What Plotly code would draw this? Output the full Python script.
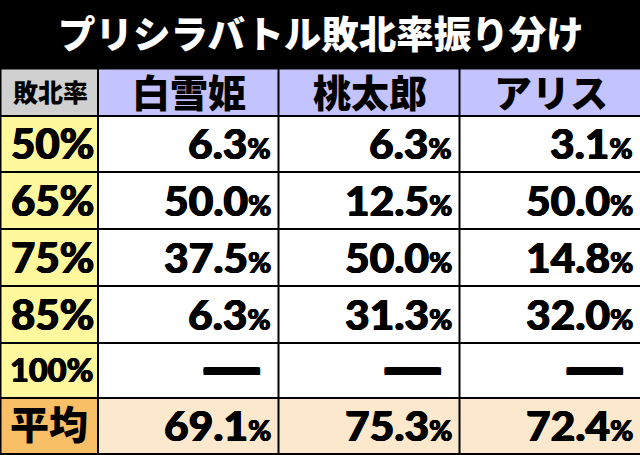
import plotly.graph_objects as go

title = "プリシラバトル敗北率振り分け"
corner = "敗北率"
characters = ["白雪姫", "桃太郎", "アリス"]
row_labels = ["50%", "65%", "75%", "85%", "100%", "平均"]
shirayuki = ["6.3", "50.0", "37.5", "6.3", None, "69.1"]
momotaro = ["6.3", "12.5", "50.0", "31.3", None, "75.3"]
alice = ["3.1", "50.0", "14.8", "32.0", None, "72.4"]
series = [shirayuki, momotaro, alice]

col_edges = [1.5, 98, 278.5, 459.5, 641]
row_edges = [68.5, 116, 172, 229, 286, 343, 398, 454]

CJK = "Noto Sans CJK JP"
NUM = "Lato"
HEAVY = "0.6px 0 0 #000, -0.6px 0 0 #000, 0 0.4px 0 #000"
DASH = ", ".join(f"{dx}px {dy}px 0 #000" for dx in range(-14, 15, 2) for dy in (-2, 0, 2))

shapes = []
ann = []

def rect(x0, x1, y0, y1, fill):
    shapes.append(dict(type="rect", xref="x", yref="y", x0=x0, x1=x1, y0=y0, y1=y1,
                       fillcolor=fill, line=dict(width=0), layer="below"))

def label(x, y, text, size, color="#000", font=CJK, anchor="center", weight=700, shadow="none"):
    ann.append(dict(x=x, y=y, xref="x", yref="y", text=text, showarrow=False,
                    xanchor=anchor, yanchor="middle", align=anchor,
                    font=dict(family=font, size=size, color=color, weight=weight, shadow=shadow)))

# frame
rect(0, 640, 0, 455, "#000000")

# header
rect(col_edges[0], col_edges[1] - 1, row_edges[0] + 1, row_edges[1] - 1, "#d0d0d0")
for c in range(3):
    rect(col_edges[c + 1] + 1, col_edges[c + 2] - 1, row_edges[0] + 1, row_edges[1] - 1, "#c3c3ff")

# body
n = len(row_labels)
for r in range(n):
    y0, y1 = row_edges[r + 1] + 1, row_edges[r + 2] - 1
    avg = r == n - 1
    rect(col_edges[0], col_edges[1] - 1, y0, y1, "#f9bf67" if avg else "#fff89c")
    for c in range(3):
        rect(col_edges[c + 1] + 1, col_edges[c + 2] - 1, y0, y1, "#fce8cd" if avg else "#ffffff")

# text
label(321, 31, title, 37.5, color="#ffffff", weight=900)
label(50, 91, corner, 25, weight=900)
for c, name in enumerate(characters):
    label((col_edges[c + 1] + col_edges[c + 2]) / 2 + 1, 90, name, 38, weight=900)

for r, lab in enumerate(row_labels):
    yc = (row_edges[r + 1] + row_edges[r + 2]) / 2
    if lab == "平均":
        label(48.5, yc - 4, lab, 39, weight=900)
    elif lab == "100%":
        label(51.5, yc - 1, lab, 32.5, font=NUM, weight=900, shadow=HEAVY)
    else:
        label(52, yc - 1, lab, 42, font=NUM, weight=900, shadow=HEAVY)
    for c in range(3):
        val = series[c][r]
        xr = col_edges[c + 2] - 6
        if val is None:
            label(col_edges[c + 2] - 46.5, yc - 2.5, "—", 42, font=NUM, weight=700, shadow=DASH)
        else:
            txt = f'{val}<span style="font-size:28px">%</span>'
            label(xr, yc - 1.5, txt, 42.5, font=NUM, weight=900, anchor="right", shadow=HEAVY)

fig = go.Figure(go.Scatter(x=[None], y=[None], showlegend=False))
fig.update_layout(width=640, height=455, margin=dict(l=0, r=0, t=0, b=0),
                  paper_bgcolor="#000000", plot_bgcolor="#000000",
                  shapes=shapes, annotations=ann,
                  xaxis=dict(range=[0, 640], visible=False, fixedrange=True),
                  yaxis=dict(range=[455, 0], visible=False, fixedrange=True))
fig.write_html("out.html", config=dict(displayModeBar=False),
               post_script="document.body.style.margin='0';document.body.style.overflow='hidden';")
